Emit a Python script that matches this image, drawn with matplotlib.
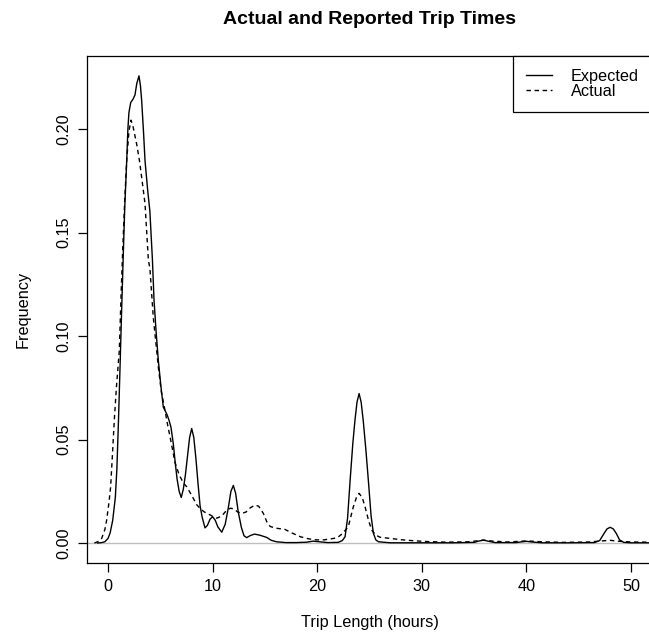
import matplotlib
matplotlib.use('Agg')
import matplotlib.pyplot as plt

plt.rcParams['font.family'] = ['Liberation Sans', 'DejaVu Sans']

# density estimates of trip length (hours)
expected_x = [-1.0, -0.6, -0.3, 0.0, 0.2, 0.45, 0.7, 0.85, 1.0, 1.15, 1.3, 1.47, 1.6,
              1.79, 1.9, 2.0, 2.17, 2.4, 2.58, 2.75, 2.96, 3.1, 3.22, 3.4, 3.54, 3.8,
              4.0, 4.25, 4.4, 4.6, 4.81, 5.05, 5.29, 5.5, 5.67, 5.85, 6.02, 6.24, 6.4,
              6.6, 6.8, 7.0, 7.2, 7.4, 7.6, 7.8, 8.0, 8.2, 8.4, 8.6, 8.8, 9.0, 9.27,
              9.5, 9.75, 10.0, 10.25, 10.5, 10.87, 11.2, 11.5, 11.75, 11.98, 12.2,
              12.45, 12.75, 13.0, 13.26, 13.6, 14.0, 14.5, 15.17, 15.6, 16.1, 17.0,
              18.0, 19.0, 19.6, 20.2, 21.0, 22.0, 22.4, 22.66, 22.9, 23.14, 23.4, 23.6,
              23.8, 24.0, 24.2, 24.4, 24.65, 24.89, 25.15, 25.37, 25.6, 25.85, 27.0,
              30.0, 33.0, 35.0, 35.5, 35.9, 36.4, 37.0, 39.0, 39.6, 40.0, 40.5, 41.5,
              44.0, 46.5, 47.0, 47.4, 47.7, 48.0, 48.3, 48.6, 48.9, 49.3, 50.0, 52.0]
expected_y = [0.0, 0.0002, 0.0006, 0.0022, 0.0048, 0.011, 0.022, 0.036, 0.059, 0.085,
              0.112, 0.141, 0.162, 0.185, 0.200, 0.208, 0.2128, 0.2145, 0.2165, 0.222,
              0.2257, 0.221, 0.2136, 0.198, 0.1846, 0.170, 0.1605, 0.1364, 0.1171,
              0.102, 0.0882, 0.076, 0.0656, 0.0635, 0.0617, 0.059, 0.0559, 0.048, 0.040,
              0.031, 0.025, 0.022, 0.026, 0.033, 0.042, 0.051, 0.0553, 0.051, 0.041,
              0.029, 0.018, 0.0125, 0.0073, 0.0085, 0.0115, 0.0127, 0.011, 0.0078,
              0.0052, 0.009, 0.017, 0.025, 0.0278, 0.024, 0.015, 0.0075, 0.0035, 0.0026,
              0.0036, 0.0043, 0.0038, 0.0027, 0.0013, 0.0006, 0.0002, 0.0002, 0.0004,
              0.0009, 0.0006, 0.0002, 0.0003, 0.0012, 0.003, 0.012, 0.030, 0.048, 0.059,
              0.068, 0.0722, 0.068, 0.059, 0.045, 0.030, 0.013, 0.0047, 0.0015, 0.0006,
              0.0001, 0.0001, 0.0001, 0.0003, 0.0010, 0.0014, 0.0008, 0.0002, 0.0002,
              0.0006, 0.0008, 0.0005, 0.0001, 0.0001, 0.0002, 0.0012, 0.0045, 0.0068,
              0.0076, 0.0068, 0.0045, 0.0015, 0.0003, 0.0001, 0.0001]

actual_x = [-1.3, -0.9, -0.6, -0.3, -0.13, 0.1, 0.25, 0.45, 0.6, 0.8, 1.08, 1.25, 1.4,
            1.6, 1.79, 2.0, 2.2, 2.4, 2.74, 3.0, 3.22, 3.54, 3.86, 4.0, 4.33, 4.81,
            5.1, 5.45, 5.7, 5.93, 6.18, 6.4, 6.8, 7.2, 7.52, 8.0, 8.48, 8.8, 9.2, 9.6,
            10.07, 10.4, 10.87, 11.35, 11.7, 12.0, 12.4, 12.8, 13.2, 13.6, 14.05, 14.4,
            14.85, 15.2, 15.5, 16.0, 16.9, 17.6, 18.4, 19.2, 19.95, 20.6, 21.3, 21.9,
            22.4, 22.97, 23.45, 23.75, 24.0, 24.3, 24.57, 24.9, 25.2, 25.6, 26.0, 27.0,
            28.0, 29.2, 30.5, 32.4, 34.5, 35.9, 36.8, 38.2, 40.0, 41.5, 43.5, 46.0,
            47.2, 48.0, 48.9, 50.0, 52.0]
actual_y = [0.0, 0.0008, 0.0023, 0.0065, 0.011, 0.020, 0.0271, 0.045, 0.0593, 0.075,
            0.093, 0.120, 0.141, 0.166, 0.185, 0.199, 0.2043, 0.201, 0.1927, 0.185,
            0.1766, 0.1638, 0.1365, 0.133, 0.109, 0.085, 0.073, 0.064, 0.057, 0.0513,
            0.0448, 0.039, 0.033, 0.029, 0.0272, 0.023, 0.0185, 0.0167, 0.0150, 0.0140,
            0.0127, 0.012, 0.013, 0.0159, 0.0168, 0.0165, 0.0150, 0.0143, 0.0150,
            0.0170, 0.0183, 0.0178, 0.0143, 0.0100, 0.0080, 0.0072, 0.0066, 0.0048,
            0.0030, 0.0020, 0.0015, 0.0015, 0.0020, 0.0025, 0.0045, 0.0079, 0.0175,
            0.022, 0.024, 0.022, 0.0175, 0.011, 0.0063, 0.0038, 0.0028, 0.0022, 0.0016,
            0.0011, 0.0007, 0.0004, 0.0006, 0.0014, 0.0009, 0.0005, 0.0010, 0.0006,
            0.0003, 0.0005, 0.0010, 0.0013, 0.0008, 0.0005, 0.0004]

x_ticks = [0, 10, 20, 30, 40, 50]
y_ticks = [0.00, 0.05, 0.10, 0.15, 0.20]

W, H = 649, 644
fig = plt.figure(figsize=(W / 100, H / 100), dpi=100)
# plot region runs slightly past the right edge of the canvas
ax = fig.add_axes([87 / W, 1 - 563 / H, (652 - 87) / W, (563 - 56) / H])

ax.axhline(0, color='#bebebe', lw=1.0, zorder=1)
ax.plot(expected_x, expected_y, color='black', lw=1.0, label='Expected')
ax.plot(actual_x, actual_y, color='black', lw=1.0, dashes=(3.2, 2.6), label='Actual')

ax.set_xlim(-2.008, 52.0)
ax.set_ylim(-0.00966, 0.2353)
ax.set_xticks(x_ticks)
ax.set_xticklabels([str(t) for t in x_ticks])
ax.set_yticks(y_ticks)
ax.set_yticklabels(['%.2f' % t for t in y_ticks], rotation=90, va='center')
ax.tick_params(direction='out', length=6.5, width=0.9, labelsize=11.7, pad=5)
for s in ax.spines.values():
    s.set_linewidth(0.9)

ax.set_xlabel('Trip Length (hours)', fontsize=11.7, labelpad=15)
ax.set_ylabel('Frequency', fontsize=11.7, labelpad=18)
ax.set_title('Actual and Reported Trip Times', fontsize=14, fontweight='bold', pad=23)

leg = ax.legend(loc='upper right', borderaxespad=0, fancybox=False, framealpha=1,
                edgecolor='black', fontsize=11.7, handlelength=1.65, handletextpad=1.14,
                labelspacing=0.0, borderpad=0.8)
leg.get_frame().set_linewidth(0.9)

fig.savefig('out.png', dpi=100)
